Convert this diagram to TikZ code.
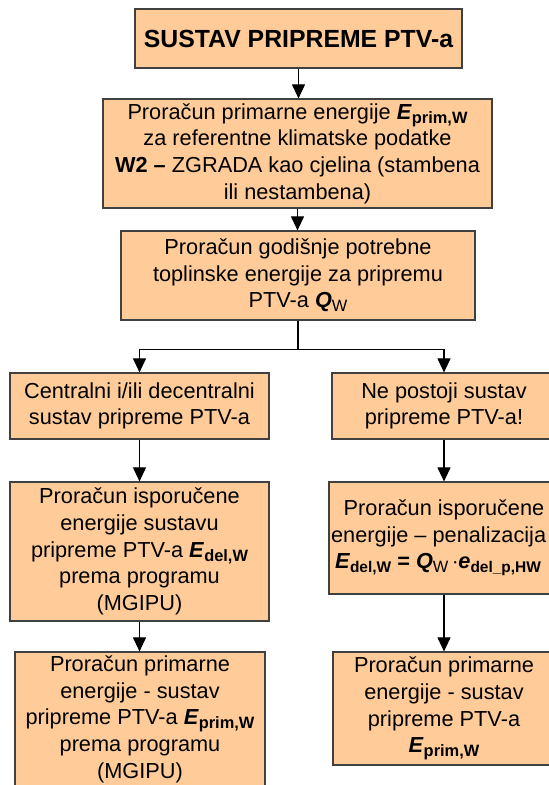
\documentclass[tikz,border=0pt]{standalone}
\usepackage{fontspec}
\setmainfont{Liberation Sans}
\usetikzlibrary{arrows.meta}
\definecolor{boxfill}{RGB}{255,204,153}
\definecolor{boxline}{RGB}{64,64,64}
\newcommand\Ev{\textbf{\textit{E}}}
\newcommand\Qv{\textbf{\textit{Q}}}
\newcommand\ev{\textbf{\textit{e}}}
\newcommand\sbb[1]{\raisebox{-0.35ex}{\fontsize{12.3}{12}\selectfont\bfseries #1}}
\newcommand\sbr[1]{\raisebox{-0.35ex}{\fontsize{12.3}{12}\selectfont #1}}
\newcommand\sbs[1]{\raisebox{-0.35ex}{\fontsize{11.6}{12}\selectfont\bfseries #1}}
\begin{document}
\begin{tikzpicture}[x=0.75pt,y=-0.75pt,
  box/.style={draw=boxline, fill=boxfill, line width=0.9pt, align=center, inner sep=0pt,
    font=\fontsize{16.3}{20}\selectfont},
  bx/.style 2 args={minimum width=#1*0.75pt, minimum height=#2*0.75pt},
  conn/.style={draw=black, line width=0.8pt, -{Triangle[width=9.75pt,length=10.5pt]}},
  plain/.style={draw=black, line width=0.8pt}]
\useasboundingbox (0,0) rectangle (549,785);
\clip (0,0) rectangle (549,785);
\fill[white] (0,0) rectangle (549,785);

\node[box, bx={327}{59}] (b1) at (298.5,38.5)
  {\fontsize{18.6}{20}\selectfont\bfseries SUSTAV PRIPREME PTV-a};
\node[box, bx={389}{109}] (b2) at (297.5,153.5)
  {Proračun primarne energije \Ev\sbb{prim,W}\\
   za referentne klimatske podatke\\
   \textbf{W2 –} ZGRADA kao cjelina (stambena\\
   ili nestambena)};
\node[box, bx={354}{89}] (b3) at (298,275.5)
  {Proračun godišnje potrebne\\
   toplinske energije za pripremu\\
   PTV-a \Qv\sbr{W}};

\node[box, bx={259}{66}] (l1) at (139.5,406)
  {Centralni i/ili decentralni\\ sustav pripreme PTV-a};
\node[box, bx={259}{139}] (l2) at (139.5,551.5)
  {Proračun isporučene\\
   energije sustavu\\
   pripreme PTV-a \Ev\sbb{del,W}\\
   prema programu\\
   (MGIPU)};
\node[box, bx={250}{134}] (l3) at (140,719)
  {Proračun primarne\\
   energije - sustav\\
   pripreme PTV-a \Ev\sbb{prim,W}\\
   prema programu\\
   (MGIPU)};

\node[box, bx={224}{66}] (r1) at (444,406)
  {Ne postoji sustav\\ pripreme PTV-a!};
\node[box, bx={230}{112}] (r2) at (444,538)
  {Proračun isporučene\\
   \hspace*{-8pt}energije – penalizacija\\
   \hspace*{-9pt}\Ev\sbs{del,W} \textbf{=} \Qv\sbr{W}\,$\cdot$\ev\sbs{del\_p,HW}};
\node[box, bx={222}{113}] (r3) at (444,708.5)
  {Proračun primarne\\
   energije - sustav\\
   pripreme PTV-a\\
   \Ev\sbb{prim,W}};

\draw[conn] (b1.south) -- (b1.south |- b2.north);
\draw[conn] (b2.south) -- (b2.south |- b3.north);
\draw[plain] (b3.south) -- ++(0,29) coordinate (j);
\draw[conn] (j) -| (l1.north);
\draw[conn] (j) -| (r1.north);
\draw[conn] (l1.south) -- (l2.north);
\draw[conn] (l2.south) -- (l2.south |- l3.north);
\draw[conn] (r1.south) -- (r2.north);
\draw[conn] (r2.south) -- (r3.north);
\end{tikzpicture}
\end{document}
